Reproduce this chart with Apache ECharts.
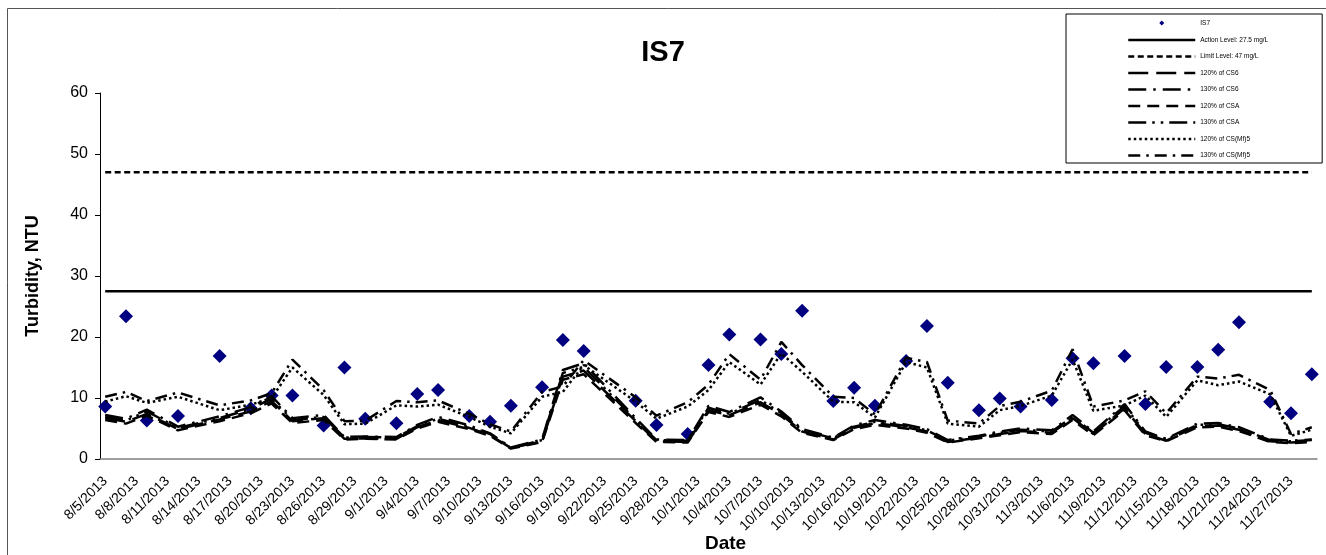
<!DOCTYPE html>
<html>
<head>
<meta charset="utf-8">
<script src="https://cdn.jsdelivr.net/npm/echarts@6/dist/echarts.min.js"></script>
<style>
  html, body { margin: 0; padding: 0; background: #fff; }
  #chart { width: 1326px; height: 555px; }
</style>
</head>
<body>
<div id="chart"></div>
<script>
// Sampling days (turbidity readings and the control-station limits share them)
const sampleDates = [
  '8/5/2013','8/7/2013','8/9/2013','8/12/2013','8/16/2013','8/19/2013','8/21/2013','8/23/2013',
  '8/26/2013','8/28/2013','8/30/2013','9/2/2013','9/4/2013','9/6/2013','9/9/2013','9/11/2013',
  '9/13/2013','9/16/2013','9/18/2013','9/20/2013','9/25/2013','9/27/2013','9/30/2013','10/2/2013',
  '10/4/2013','10/7/2013','10/9/2013','10/11/2013','10/14/2013','10/16/2013','10/18/2013','10/21/2013',
  '10/23/2013','10/25/2013','10/28/2013','10/30/2013','11/1/2013','11/4/2013','11/6/2013','11/8/2013',
  '11/11/2013','11/13/2013','11/15/2013','11/18/2013','11/20/2013','11/22/2013','11/25/2013','11/27/2013',
  '11/29/2013'
];

// IS7 turbidity, NTU
const is7 = [
  8.6, 23.4, 6.3, 7.05, 16.9, 8.3, 10.4, 10.4,
  5.5, 15.0, 6.6, 5.85, 10.65, 11.3, 7.05, 6.1,
  8.75, 11.75, 19.5, 17.7, 9.56, 5.57, 4.1, 15.4,
  20.4, 19.6, 17.2, 24.3, 9.5, 11.7, 8.75, 16.07,
  21.8, 12.5, 8.0, 9.9, 8.6, 9.67, 16.5, 15.7,
  16.9, 9.0, 15.1, 15.1, 17.9, 22.4, 9.4, 7.5,
  13.9
];

const cs6_120 = [
  6.7, 6.1, 7.4, 4.9, 6.5, 7.8, 9.5, 6.2,
  6.7, 3.3, 3.4, 3.3, 5.2, 6.4, 5.1, 3.9,
  1.8, 2.9, 13.5, 14.5, 6.2, 2.9, 2.8, 8.0,
  7.2, 9.3, 7.3, 4.5, 3.2, 5.1, 5.9, 5.2,
  4.5, 2.8, 3.5, 4.1, 4.6, 4.3, 6.7, 4.1,
  8.3, 4.1, 3.0, 5.4, 5.5, 4.8, 2.9, 2.7,
  2.9
];
const cs6_130 = [
  7.2, 6.6, 8.1, 5.3, 7.0, 8.5, 10.3, 6.7,
  7.2, 3.6, 3.7, 3.6, 5.6, 6.9, 5.5, 4.2,
  1.9, 3.2, 14.6, 15.7, 6.7, 3.2, 3.1, 8.7,
  7.7, 10.1, 7.8, 4.9, 3.5, 5.5, 6.4, 5.6,
  4.9, 3.1, 3.8, 4.5, 5.0, 4.7, 7.2, 4.5,
  9.0, 4.5, 3.3, 5.8, 5.9, 5.2, 3.2, 3.0,
  3.2
];
const csa_120 = [
  6.4, 5.8, 7.1, 4.7, 6.2, 7.5, 9.1, 5.9,
  6.4, 3.2, 3.3, 3.2, 5.0, 6.1, 4.9, 3.8,
  1.7, 2.8, 13.0, 13.9, 5.9, 2.8, 2.7, 7.7,
  6.9, 8.9, 7.0, 4.3, 3.1, 4.9, 5.6, 5.0,
  4.3, 2.7, 3.4, 3.9, 4.4, 4.1, 6.4, 3.9,
  8.0, 3.9, 2.9, 5.2, 5.3, 4.6, 2.8, 2.6,
  2.8
];
const csa_130 = [
  6.9, 6.3, 7.8, 5.1, 6.7, 8.2, 9.9, 6.4,
  6.9, 3.5, 3.6, 3.5, 5.4, 6.6, 5.3, 4.1,
  1.8, 3.1, 14.1, 15.1, 6.4, 3.1, 3.0, 8.4,
  7.4, 9.7, 7.5, 4.7, 3.4, 5.3, 6.1, 5.4,
  4.7, 3.0, 3.7, 4.3, 4.8, 4.5, 6.9, 4.3,
  8.7, 4.3, 3.2, 5.6, 5.7, 5.0, 3.1, 2.9,
  3.1
];
const csmf5_120 = [
  9.4, 10.3, 9.2, 10.2, 8.0, 8.9, 10.0, 15.0,
  10.5, 5.7, 5.8, 8.8, 8.6, 8.9, 6.9, 5.3,
  4.2, 10.2, 11.0, 15.4, 9.4, 6.6, 8.6, 11.3,
  15.9, 12.2, 17.3, 14.3, 9.4, 9.3, 6.8, 15.9,
  15.0, 5.8, 5.3, 8.0, 8.7, 10.4, 16.3, 7.9,
  8.8, 10.4, 6.9, 12.9, 12.1, 12.7, 10.6, 3.8,
  4.8
];
const csmf5_130 = [
  10.2, 11.0, 9.5, 10.9, 8.8, 9.6, 10.8, 16.3,
  11.3, 6.2, 6.3, 9.5, 9.3, 9.6, 7.4, 5.7,
  4.5, 11.0, 11.9, 16.2, 10.1, 7.1, 9.3, 12.2,
  17.2, 13.0, 19.2, 15.4, 10.2, 10.0, 7.3, 16.6,
  15.9, 6.3, 5.8, 8.7, 9.4, 11.2, 18.0, 8.6,
  9.6, 11.1, 7.5, 13.5, 13.2, 13.8, 11.3, 4.1,
  5.2
];

const actionLevel = 27.5;
const limitLevel = 47;

// Daily category axis, 8/5/2013 through 11/29/2013
const firstDay = new Date(2013, 7, 5);
const dayCount = 117;
const axisDays = [];
for (let i = 0; i < dayCount; i++) {
  const d = new Date(firstDay.getFullYear(), firstDay.getMonth(), firstDay.getDate() + i);
  axisDays.push((d.getMonth() + 1) + '/' + d.getDate() + '/' + d.getFullYear());
}

const yTicks = { min: 0, max: 60, interval: 10 };

const FONT = '"Liberation Sans", Arial, sans-serif';

// Small centred diamond for the IS7 legend entry (zero-size corner points keep the 67x8 box)
const LEGEND_DIAMOND = 'path://M0 0L0 0ZM67 8L67 8ZM33.5 1.5L36 4L33.5 6.5L31 4Z';

function pairs(values) {
  return sampleDates.map((d, i) => [d, values[i]]);
}
function flat(level) {
  return [[sampleDates[0], level], [sampleDates[sampleDates.length - 1], level]];
}
function lineSeries(name, data, dash) {
  return {
    name, type: 'line', data,
    symbol: 'none', showSymbol: false,
    lineStyle: { color: '#000', width: 2.5, type: dash, cap: 'butt' },
    itemStyle: { color: '#000' },
    emphasis: { disabled: true },
    z: 3
  };
}

const chart = echarts.init(document.getElementById('chart'), null, { renderer: 'canvas' });

chart.setOption({
  animation: false,
  backgroundColor: '#fff',
  textStyle: { fontFamily: FONT },
  title: {
    text: 'IS7', left: 'center', top: 33,
    textStyle: { fontSize: 29, fontWeight: 'bold', color: '#000', fontFamily: FONT }
  },
  graphic: [{
    type: 'rect', silent: true,
    shape: { x: 7.5, y: 8.5, width: 1330, height: 560 },
    style: { fill: 'none', stroke: '#555', lineWidth: 1 },
    z: -1
  }],
  legend: {
    orient: 'vertical', left: 1066, top: 14,
    padding: [5, 54, 4, 61],
    itemWidth: 67, itemHeight: 8, itemGap: 9.5,
    borderColor: '#000', borderWidth: 1, backgroundColor: '#fff',
    textStyle: { fontSize: 6.5, color: '#000', fontFamily: FONT },
    itemStyle: { opacity: 0 },
    lineStyle: { width: 2.5 },
    selectedMode: false,
    data: [
      { name: 'IS7', icon: LEGEND_DIAMOND, itemStyle: { opacity: 1, color: '#000080' } },
      'Action Level: 27.5 mg/L', 'Limit Level: 47 mg/L',
      '120% of CS6', '130% of CS6', '120% of CSA', '130% of CSA',
      '120% of CS(Mf)5', '130% of CS(Mf)5'
    ]
  },
  grid: { left: 100, right: 9, top: 93, bottom: 96, containLabel: false, outerBoundsMode: 'none' },
  xAxis: {
    type: 'category', data: axisDays, boundaryGap: true,
    name: 'Date', nameLocation: 'middle', nameGap: 75, nameMoveOverlap: false,
    nameTextStyle: { fontSize: 19, fontWeight: 'bold', color: '#000', padding: [0, 0, 0, 34], fontFamily: FONT },
    axisLine: { lineStyle: { color: '#808080', width: 1.5 } },
    axisTick: { interval: 2, length: 5, lineStyle: { color: '#808080', width: 1 } },
    axisLabel: { interval: 2, rotate: 45, margin: 20, fontSize: 14, color: '#000', fontFamily: FONT },
    splitLine: { show: false }
  },
  yAxis: {
    type: 'value', min: yTicks.min, max: yTicks.max, interval: yTicks.interval,
    name: 'Turbidity, NTU', nameLocation: 'middle', nameGap: 58, nameMoveOverlap: false,
    nameTextStyle: { fontSize: 18, fontWeight: 'bold', color: '#000', fontFamily: FONT },
    axisLine: { show: true, lineStyle: { color: '#000', width: 1 } },
    axisTick: { show: true, length: 5, lineStyle: { color: '#000' } },
    axisLabel: { margin: 12, fontSize: 16, color: '#000', fontFamily: FONT },
    splitLine: { show: false }
  },
  series: [
    {
      name: 'IS7', type: 'scatter', data: pairs(is7),
      symbol: 'diamond', symbolSize: 14,
      itemStyle: { color: '#000080', opacity: 1 }, z: 2
    },
    lineSeries('Action Level: 27.5 mg/L', flat(actionLevel), 'solid'),
    lineSeries('Limit Level: 47 mg/L', flat(limitLevel), [6, 3.5]),
    lineSeries('120% of CS6', pairs(cs6_120), [20, 8]),
    lineSeries('130% of CS6', pairs(cs6_130), [18, 7, 2.5, 7]),
    lineSeries('120% of CSA', pairs(csa_120), [12, 7]),
    lineSeries('130% of CSA', pairs(csa_130), [18, 6, 2.5, 6, 2.5, 6]),
    lineSeries('120% of CS(Mf)5', pairs(csmf5_120), [2.5, 3]),
    lineSeries('130% of CS(Mf)5', pairs(csmf5_130), [12, 6, 2.5, 6])
  ]
});
</script>
</body>
</html>
